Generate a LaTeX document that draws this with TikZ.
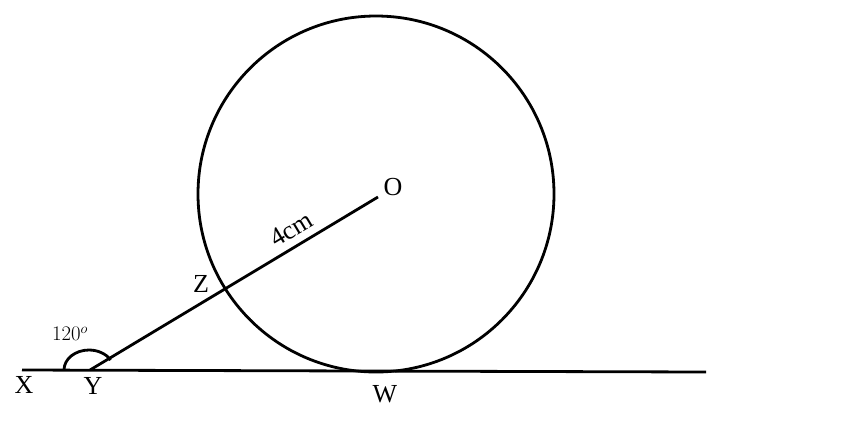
\documentclass[tikz,border=0pt]{standalone}
\usepackage{fontspec}
\setmainfont{Liberation Serif}
\begin{document}
\begin{tikzpicture}[x=1pt,y=-1pt,
  geo/.style={line width=2.8pt,black},
  lbl/.style={font=\fontsize{26}{30}\selectfont,inner sep=0pt}]
\useasboundingbox (0,0) rectangle (864,432);
\coordinate (X) at (22,370);
\coordinate (E) at (706,372);
\coordinate (Y) at (90,370);
\coordinate (O) at (378,197);
\coordinate (C) at (376,194);
\draw[geo] (X) -- (E);
\draw[geo] (C) circle[radius=178];
\draw[geo] (Y) -- (O);
\draw[geo] (64,370) arc[start angle=180,end angle=30,x radius=25,y radius=-20];
\node[lbl] (lX) at (24,385) {X};
\node[lbl] (lY) at (93,386) {Y};
\node[lbl] (lW) at (385,394) {W};
\node[lbl] (lO) at (393,187) {O};
\node[lbl] (lZ) at (201,284) {Z};
\node[lbl,rotate=31] (l4) at (291,229) {4cm};
\node[lbl,font=\fontsize{20}{24}\selectfont] (la) at (70,334) {$120^{o}$};
\end{tikzpicture}
\end{document}
